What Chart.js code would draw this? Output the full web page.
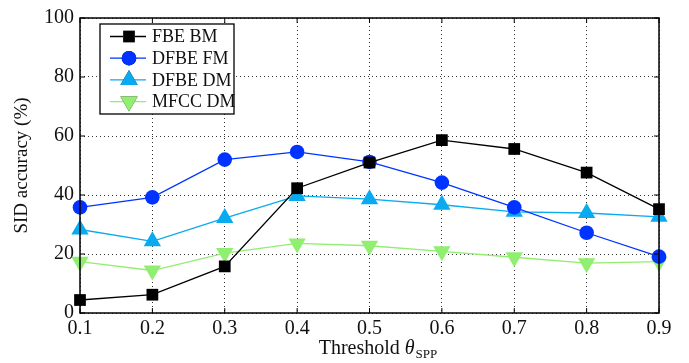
<!DOCTYPE html>
<html>
<head>
<meta charset="utf-8">
<script src="https://cdn.jsdelivr.net/npm/chart.js@4"></script>
<style>
  body { margin: 0; background: #fff; }
  #wrap { width: 689px; height: 363px; }
</style>
</head>
<body>
<div id="wrap"><canvas id="chart"></canvas></div>
<script>
// data
const thresholds = [0.1, 0.2, 0.3, 0.4, 0.5, 0.6, 0.7, 0.8, 0.9];
const fbeBM = [4.4, 6.2, 15.8, 42.3, 51.0, 58.6, 55.6, 47.6, 35.2];
const dfbeFM = [35.8, 39.2, 52.0, 54.6, 51.2, 44.2, 35.8, 27.2, 19.1];
const dfbeDM = [28.3, 24.3, 32.2, 39.7, 38.6, 36.7, 34.3, 33.9, 32.6];
const mfccDM = [17.4, 14.4, 20.3, 23.6, 22.8, 20.9, 18.9, 16.9, 17.4];
const yTicks = [0, 20, 40, 60, 80, 100];

const FONT = "'Liberation Serif', 'DejaVu Serif', serif";

// inside legend, box outline, inward ticks, axis titles
const decorPlugin = {
    id: "decor",
    afterDraw(chart) {
        const ctx = chart.ctx;
        const a = chart.chartArea;
        const xs = chart.scales.x;
        const ys = chart.scales.y;
        ctx.save();

        // box
        ctx.strokeStyle = "#000";
        ctx.lineWidth = 1.5;
        ctx.strokeRect(a.left, a.top, a.right - a.left, a.bottom - a.top);

        // inward ticks
        ctx.lineWidth = 1;
        thresholds.forEach(v => {
            const px = xs.getPixelForValue(v);
            ctx.beginPath();
            ctx.moveTo(px, a.bottom); ctx.lineTo(px, a.bottom - 5);
            ctx.moveTo(px, a.top); ctx.lineTo(px, a.top + 5);
            ctx.stroke();
        });
        yTicks.forEach(v => {
            const py = ys.getPixelForValue(v);
            ctx.beginPath();
            ctx.moveTo(a.left, py); ctx.lineTo(a.left + 5, py);
            ctx.moveTo(a.right, py); ctx.lineTo(a.right - 5, py);
            ctx.stroke();
        });

        // y title
        ctx.fillStyle = "#111";
        ctx.font = "19px " + FONT;
        ctx.textAlign = "center";
        ctx.textBaseline = "middle";
        ctx.save();
        ctx.translate(22, (a.top + a.bottom) / 2);
        ctx.rotate(-Math.PI / 2);
        ctx.fillText("SID accuracy (%)", 0, 0);
        ctx.restore();

        // x title with subscript
        const main = "Threshold ";
        ctx.font = "20px " + FONT;
        const w1 = ctx.measureText(main).width;
        ctx.font = "italic 20px " + FONT;
        const w2 = ctx.measureText("θ").width;
        ctx.font = "13px " + FONT;
        const w3 = ctx.measureText("SPP").width;
        let x0 = (a.left + a.right) / 2 + 8 - (w1 + w2 + w3) / 2;
        ctx.textAlign = "left";
        ctx.textBaseline = "alphabetic";
        ctx.font = "20px " + FONT;
        ctx.fillText(main, x0, 354);
        ctx.font = "italic 20px " + FONT;
        ctx.fillText("θ", x0 + w1, 354);
        ctx.font = "13px " + FONT;
        ctx.fillText("SPP", x0 + w1 + w2 + 1, 358);

        // legend
        const lx = 100, ly = 24, lw = 134, lh = 90;
        ctx.fillStyle = "#fff";
        ctx.fillRect(lx, ly, lw, lh);
        ctx.strokeStyle = "#000";
        ctx.lineWidth = 1.3;
        ctx.strokeRect(lx, ly, lw, lh);
        chart.data.datasets.forEach((ds, i) => {
            const cy = ly + 12.5 + i * 21.7;
            ctx.strokeStyle = ds.borderColor;
            ctx.lineWidth = 1.3;
            ctx.beginPath();
            ctx.moveTo(lx + 10, cy); ctx.lineTo(lx + 46, cy);
            ctx.stroke();
            Chart.helpers.drawPoint(ctx, {
                pointStyle: ds.pointStyle,
                radius: ds.pointRadius,
                rotation: ds.rotation || 0,
                borderWidth: 0
            }, lx + 29, cy);
            ctx.fillStyle = ds.pointBackgroundColor;
            ctx.fill();
            ctx.fillStyle = "#111";
            ctx.font = "18px " + FONT;
            ctx.textAlign = "left";
            ctx.textBaseline = "middle";
            ctx.fillText(ds.label, lx + 52, cy + 1);
        });
        ctx.restore();
    }
};

function series(label, data, color, style, radius, rotation) {
    return {
        label: label,
        data: data.map((v, i) => ({ x: thresholds[i], y: v })),
        borderColor: color,
        backgroundColor: color,
        pointBackgroundColor: color,
        pointBorderColor: color,
        pointBorderWidth: 0,
        borderWidth: 1.3,
        pointStyle: style,
        pointRadius: radius,
        pointHoverRadius: radius,
        rotation: rotation,
        tension: 0,
        clip: false
    };
}

new Chart(document.getElementById("chart"), {
    type: "line",
    data: {
        datasets: [
            series("FBE BM", fbeBM, "#000000", "rect", 8.3, 0),
            series("DFBE FM", dfbeFM, "#0033ff", "circle", 7.3, 0),
            series("DFBE DM", dfbeDM, "#0aaaf0", "triangle", 10, 0),
            series("MFCC DM", mfccDM, "#90ee70", "triangle", 10, 180)
        ]
    },
    options: {
        responsive: true,
        maintainAspectRatio: false,
        animation: false,
        layout: { padding: { top: 14, right: 30, left: 0, bottom: 0 } },
        plugins: {
            legend: { display: false },
            tooltip: { enabled: false }
        },
        scales: {
            x: {
                type: "linear",
                min: 0.1,
                max: 0.9,
                afterBuildTicks: s => { s.ticks = thresholds.map(v => ({ value: v })); },
                afterFit: s => { s.height = 50; },
                border: { display: false, dash: [1, 3] },
                grid: {
                    color: "#333",
                    lineWidth: 1,
                    drawTicks: false
                },
                ticks: {
                    color: "#111",
                    padding: 4,
                    maxRotation: 0,
                    font: { family: FONT, size: 20 },
                    callback: v => v.toFixed(1)
                }
            },
            y: {
                min: 0,
                max: 100,
                afterBuildTicks: s => { s.ticks = yTicks.map(v => ({ value: v })); },
                afterFit: s => { s.width = 80; },
                border: { display: false, dash: [1, 3] },
                grid: {
                    color: "#333",
                    lineWidth: 1,
                    drawTicks: false
                },
                ticks: {
                    color: "#111",
                    padding: 6,
                    font: { family: FONT, size: 20 }
                }
            }
        }
    },
    plugins: [decorPlugin]
});
</script>
</body>
</html>
